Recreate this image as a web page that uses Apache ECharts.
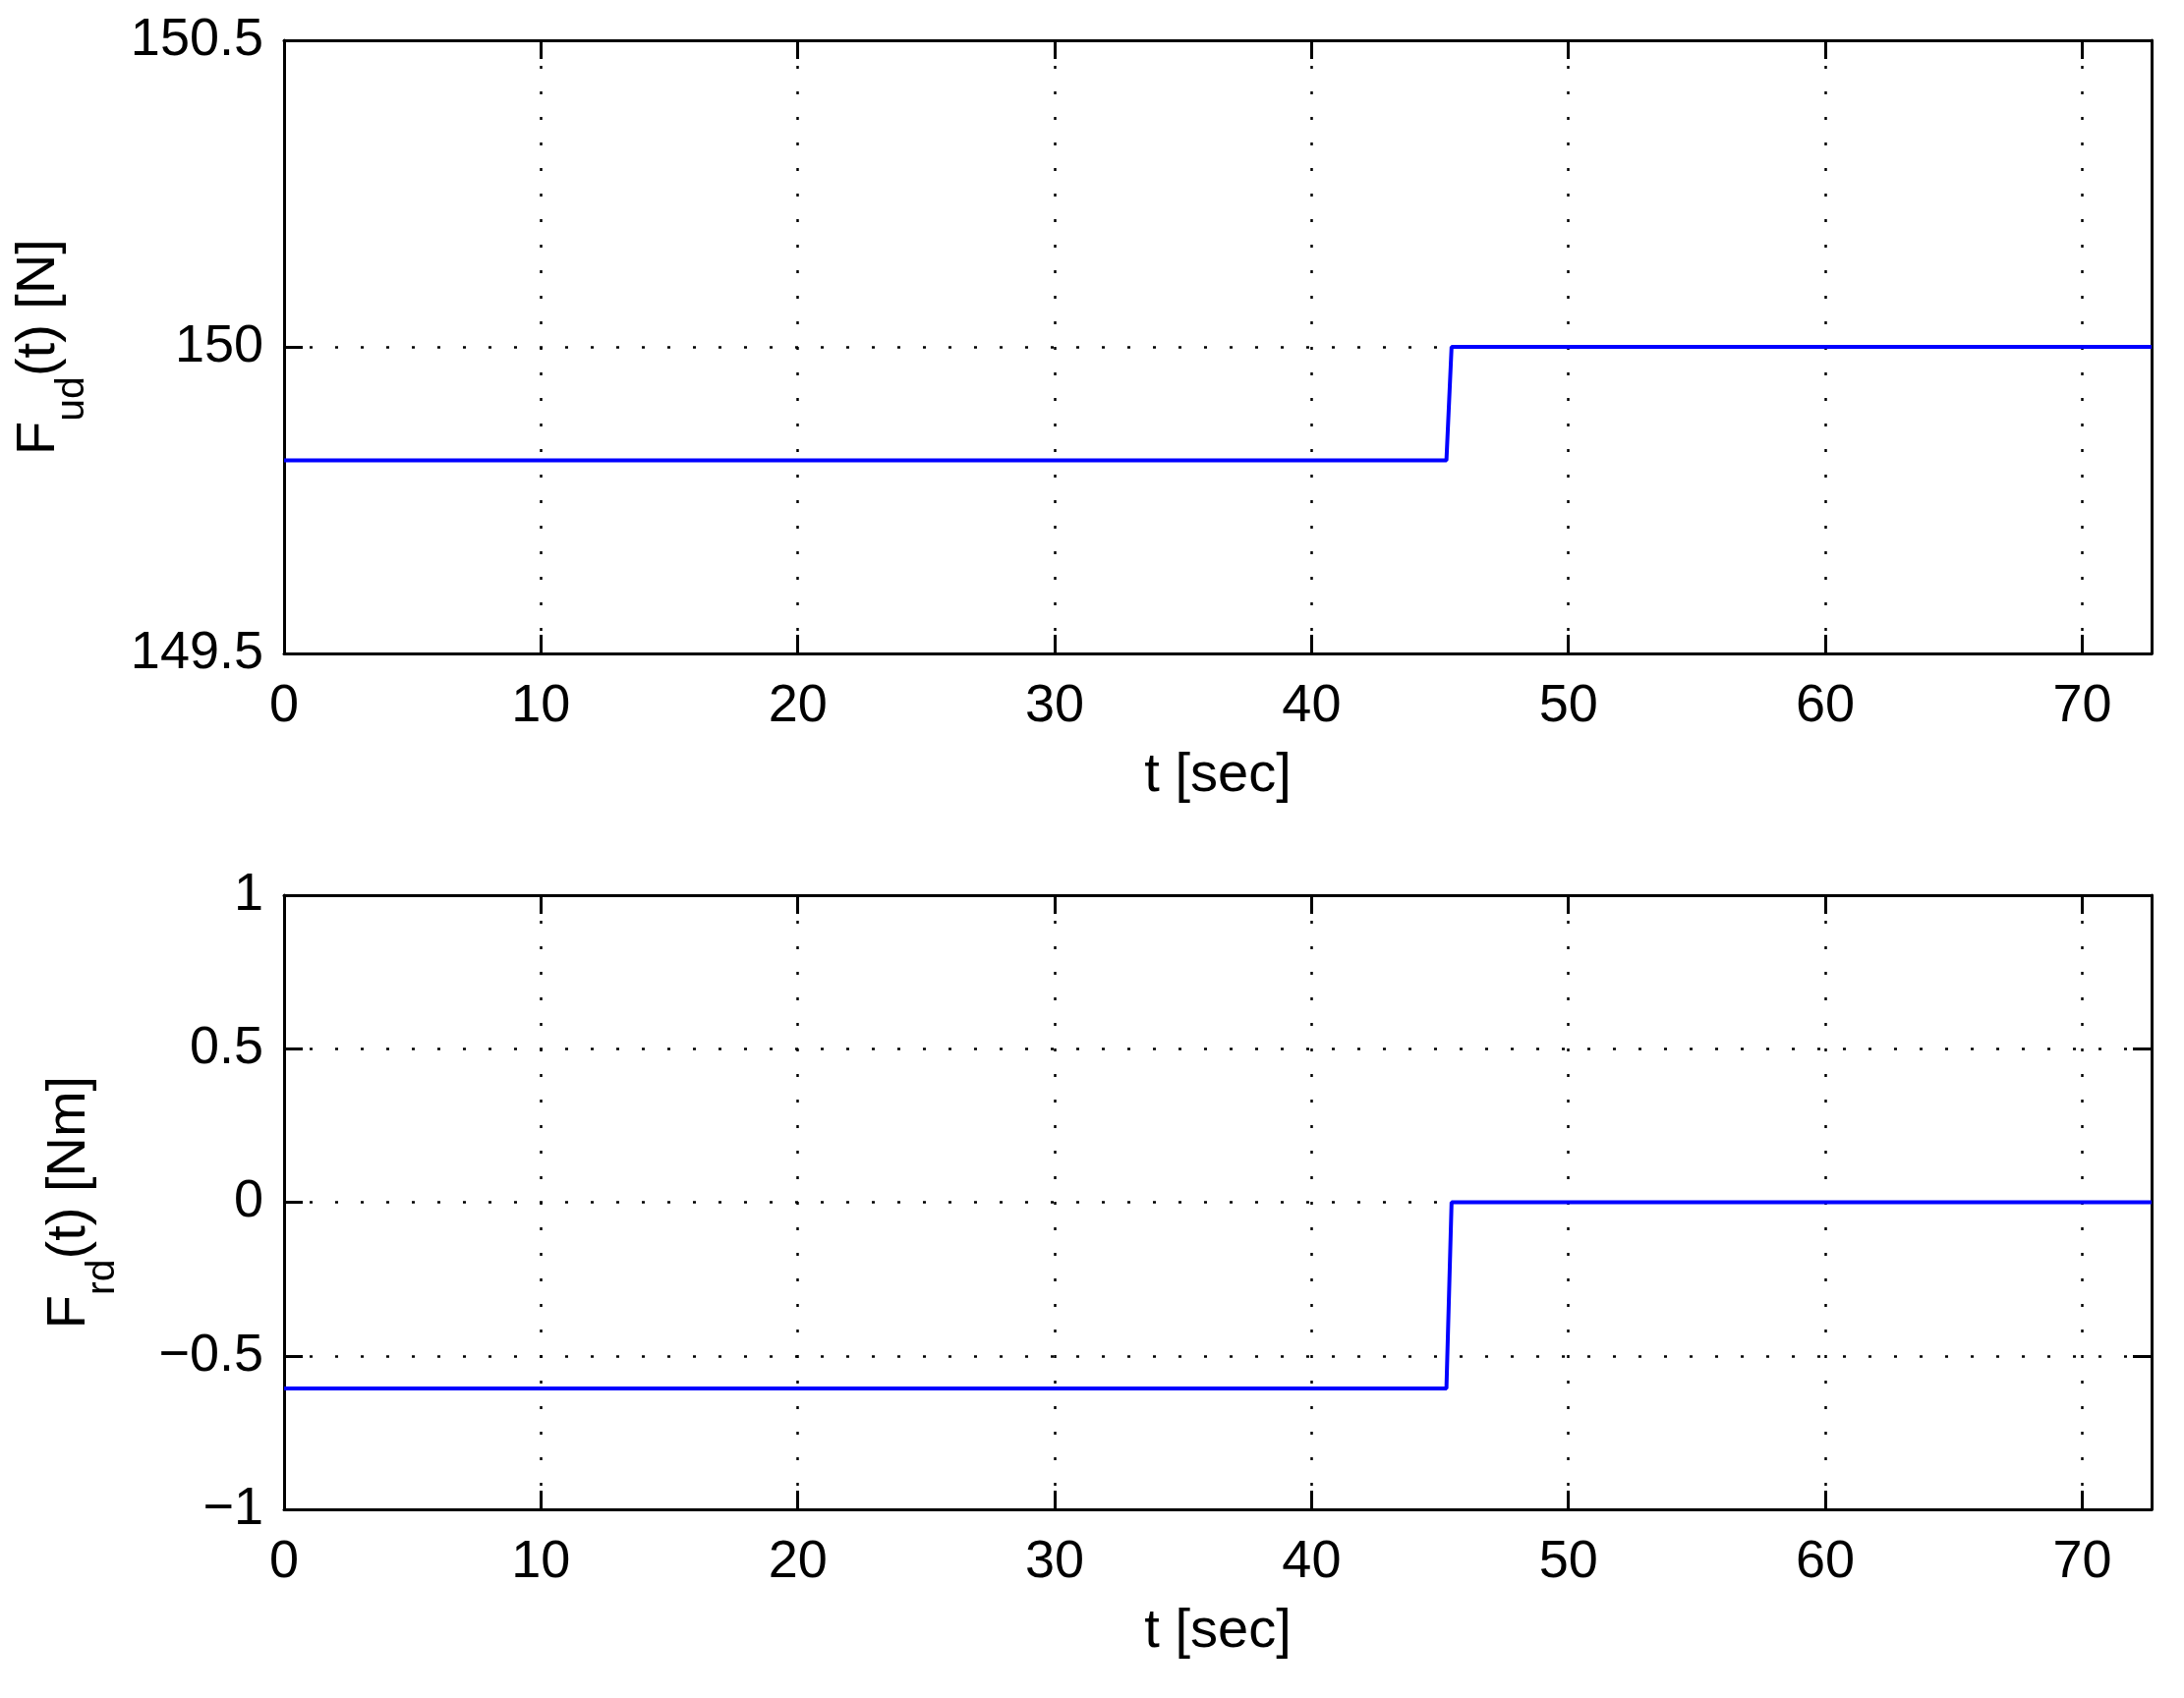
<!DOCTYPE html>
<html>
<head>
<meta charset="utf-8">
<script src="https://cdn.jsdelivr.net/npm/echarts@6/dist/echarts.min.js"></script>
<style>
  html, body { margin: 0; padding: 0; background: #fff; }
  #my_chart { width: 2222px; height: 1728px; }
</style>
</head>
<body>
<div id="my_chart"></div>
<script>
  // values
  var timeTop = [0, 45.25, 45.45, 72.7];
  var forceUd = [149.815, 149.815, 150.0, 150.0];
  var timeBot = [0, 45.25, 45.45, 72.7];
  var torqueRd = [-0.606, -0.606, 0.0, 0.0];

  var xTicks = [0, 10, 20, 30, 40, 50, 60, 70];
  var yTopRange = [149.5, 150.5];
  var yBotRange = [-1, 1];
  var tMax = 72.7;

  var FONT = '"Liberation Sans", Arial, Helvetica, sans-serif';

  function pairs(xs, ys) {
    return xs.map(function (x, i) { return [x, ys[i]]; });
  }

  var gridLine = { show: true, lineStyle: { color: '#000', width: 2.5, type: [3, 23] } };
  var axisLine = { show: true, onZero: false, lineStyle: { color: '#000', width: 3 } };
  var tick = { show: true, inside: true, length: 19, lineStyle: { color: '#000', width: 3 } };
  var labelStyle = { color: '#000', fontSize: 54, fontFamily: FONT };

  function xMain(gi) {
    return {
      type: 'value', gridIndex: gi, min: 0, max: tMax, interval: 10, position: 'bottom',
      axisLine: axisLine, axisTick: tick, splitLine: gridLine,
      axisLabel: Object.assign({ margin: 27, formatter: function (v) {
        return xTicks.indexOf(v) >= 0 ? String(v) : '';
      } }, labelStyle),
      name: 't [sec]', nameLocation: 'middle', nameGap: 97,
      nameTextStyle: { color: '#000', fontSize: 56, fontFamily: FONT }
    };
  }
  function xBox(gi) {
    return {
      type: 'value', gridIndex: gi, min: 0, max: tMax, interval: 10, position: 'top',
      axisLine: axisLine, axisTick: tick, splitLine: { show: false }, axisLabel: { show: false }
    };
  }
  function yMain(gi, range, sub, rest, gap) {
    return {
      type: 'value', gridIndex: gi, min: range[0], max: range[1], interval: 0.5, position: 'left',
      axisLine: axisLine, axisTick: tick, splitLine: gridLine,
      axisLabel: Object.assign({ margin: 21, formatter: function (v) {
        return String(v).replace('-', '\u2212');
      } }, labelStyle),
      name: '{m|F}{s|' + sub + '}{m|' + rest + '}', nameLocation: 'middle', nameGap: gap,
      nameTextStyle: {
        color: '#000', fontFamily: FONT,
        rich: {
          m: { fontSize: 56, fontFamily: FONT, color: '#000' },
          s: { fontSize: 41, fontFamily: FONT, color: '#000', padding: [67, 0, 0, 0] }
        }
      }
    };
  }
  function yBox(gi, range) {
    return {
      type: 'value', gridIndex: gi, min: range[0], max: range[1], interval: 0.5, position: 'right',
      axisLine: axisLine, axisTick: tick, splitLine: { show: false }, axisLabel: { show: false }
    };
  }

  var my_chart = echarts.init(document.getElementById('my_chart'));
  my_chart.setOption({
    backgroundColor: '#fff',
    animation: false,
    grid: [
      { left: 289, right: 33, top: 41, height: 624, outerBoundsMode: 'none' },
      { left: 289, right: 33, top: 911, height: 625, outerBoundsMode: 'none' }
    ],
    xAxis: [xMain(0), xBox(0), xMain(1), xBox(1)],
    yAxis: [
      yMain(0, yTopRange, 'ud', '(t) [N]', 195), yBox(0, yTopRange),
      yMain(1, yBotRange, 'rd', '(t) [Nm]', 164), yBox(1, yBotRange)
    ],
    series: [{
      type: 'line', xAxisIndex: 0, yAxisIndex: 0, showSymbol: false, z: 5,
      data: pairs(timeTop, forceUd),
      lineStyle: { color: '#0000ff', width: 4 }
    }, {
      type: 'line', xAxisIndex: 2, yAxisIndex: 2, showSymbol: false, z: 5,
      data: pairs(timeBot, torqueRd),
      lineStyle: { color: '#0000ff', width: 4 }
    }]
  });
</script>
</body>
</html>
